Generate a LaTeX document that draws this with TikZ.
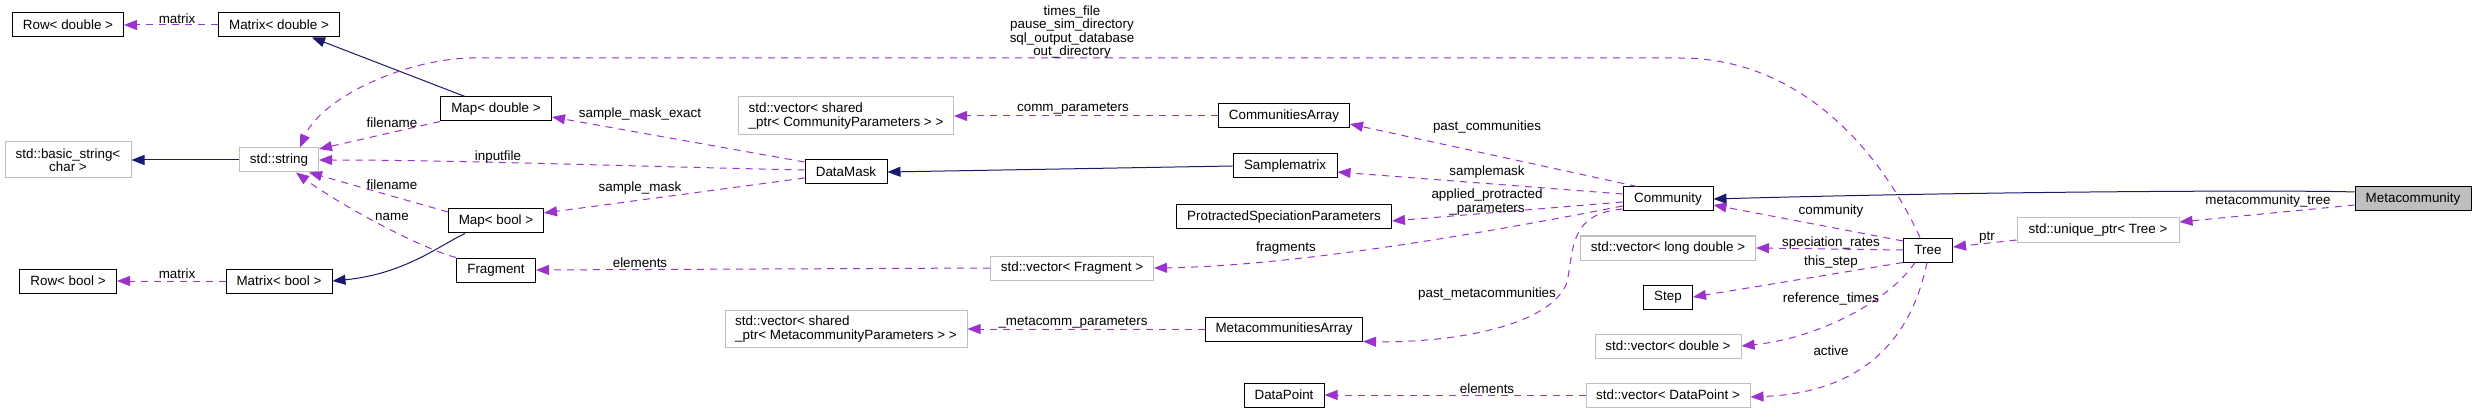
\documentclass[tikz,border=0pt]{standalone}
\usepackage{fontspec}
\setmainfont{Liberation Sans}
\usetikzlibrary{arrows.meta}
\definecolor{purp}{HTML}{9A32CD}
\definecolor{navy}{HTML}{191970}
\definecolor{lgray}{HTML}{BFBFBF}
\newcommand\dfont{\fontsize{13.4pt}{13.5pt}\selectfont}
\begin{document}
\begin{tikzpicture}[x=1pt,y=-1pt,
  cls/.style={draw=black, line width=1pt, fill=white, minimum height=24pt, inner xsep=2pt, inner ysep=1pt, font=\dfont, anchor=center},
  ext/.style={cls, draw=lgray},
  mem/.style={draw=purp, line width=1pt, dash pattern=on 7pt off 6pt, -{Triangle[length=13pt,width=10pt]}},
  inh/.style={draw=navy, line width=1pt, -{Triangle[length=13pt,width=10pt]}},
  lbl/.style={font=\dfont, inner sep=0pt, text=black, align=center}]
\useasboundingbox (0,0) rectangle (2476,414);
\fill[white] (0,0) rectangle (2476,414);

% nodes
\node[cls, minimum width=111pt] (rowd) at (68,25) {Row< double >};
\node[cls, minimum width=121pt] (matd) at (279,25) {Matrix< double >};
\node[ext, minimum width=126pt, minimum height=36pt, align=center] (bstr) at (68,160) {std::basic\_string<\\char >};
\node[ext, minimum width=79pt] (str) at (279,160) {std::string};
\node[cls, minimum width=97pt] (rowb) at (68,281) {Row< bool >};
\node[cls, minimum width=106pt] (matb) at (279,281) {Matrix< bool >};
\node[cls, minimum width=111pt] (mapd) at (496,109) {Map< double >};
\node[cls, minimum width=95pt] (mapb) at (496,221) {Map< bool >};
\node[cls, minimum width=79pt] (frag) at (496,270) {Fragment};
\node[ext, minimum width=215pt, minimum height=38pt, align=left] (vcp) at (846,116) {std::vector< shared\\\_ptr< CommunityParameters > >};
\node[cls, minimum width=82pt] (dmask) at (846,172) {DataMask};
\node[ext, minimum width=242pt, minimum height=37pt, align=left] (vmp) at (846,329) {std::vector< shared\\\_ptr< MetacommunityParameters > >};
\node[ext, minimum width=163pt] (vfrag) at (1072,268) {std::vector< Fragment >};
\node[cls, minimum width=131pt] (carr) at (1284,116) {CommunitiesArray};
\node[cls, minimum width=104pt] (smat) at (1285,166) {Samplematrix};
\node[cls, minimum width=215pt] (psp) at (1284,217) {ProtractedSpeciationParameters};
\node[cls, minimum width=157pt] (marr) at (1284,329) {MetacommunitiesArray};
\node[cls, minimum width=80pt] (dpt) at (1284,395) {DataPoint};
\node[cls, minimum width=90pt] (comm) at (1668,199) {Community};
\node[ext, minimum width=175pt] (vld) at (1668,248) {std::vector< long double >};
\node[cls, minimum width=49pt] (stepn) at (1668,297) {Step};
\node[ext, minimum width=146pt] (vd) at (1668,346) {std::vector< double >};
\node[ext, minimum width=164pt] (vdp) at (1668,395) {std::vector< DataPoint >};
\node[cls, minimum width=49pt] (tree) at (1928,250) {Tree};
\node[ext, minimum width=162pt] (uptr) at (2098,230) {std::unique\_ptr< Tree >};
\node[cls, minimum width=116pt, fill=lgray] (meta) at (2413,199) {Metacommunity};

% inheritance edges
\draw[inh] (str.west) -- (bstr.east);
\draw[inh] ([xshift=-31pt]mapd.north) -- ([xshift=33pt]matd.south);
\draw[inh] ([xshift=-31pt]mapb.south) .. controls (440,245) and (405,274) .. (matb.east);
\draw[inh] (smat.west) -- (dmask.east);
\draw[inh] ([yshift=7pt]meta.west) .. controls (2300,190) and (2000,191) .. (comm.east);

% member edges
\draw[mem] (matd.west) -- (rowd.east);
\node[lbl] (l1) at (177,19) {matrix};
\draw[mem] (matb.west) -- (rowb.east);
\node[lbl] (l2) at (177,274) {matrix};

\draw[mem] (mapd.south west) -- ([yshift=11pt]str.east);
\node[lbl] (l3) at (392,123) {filename};
\draw[mem] ([yshift=2pt]dmask.west) .. controls (620,166) and (450,160) .. (str.east);
\node[lbl] (l4) at (498,157) {inputfile};
\draw[mem] ([yshift=9pt]mapb.west) -- ([xshift=30pt]str.south);
\node[lbl] (l5) at (392,185) {filename};
\draw[mem] (frag.north west) .. controls (420,248) and (340,205) .. ([xshift=17pt]str.south);
\node[lbl] (l6) at (392,217) {name};

\draw[mem] ([xshift=-8pt]tree.north) .. controls (1880,150) and (1800,58) .. (1680,58) -- (470,58) .. controls (400,60) and (320,100) .. ([xshift=21pt]str.north);
\node[lbl] (l7) at (1072,32) {times\_file\\pause\_sim\_directory\\sql\_output\_database\\out\_directory};

\draw[mem] ([yshift=10pt]dmask.west) -- ([yshift=-8pt]mapd.east);
\node[lbl] (l8) at (640,114) {sample\_mask\_exact};
\draw[mem] ([yshift=-6pt]dmask.west) -- ([yshift=8pt]mapb.east);
\node[lbl] (l9) at (640,188) {sample\_mask};

\draw[mem] (carr.west) -- (vcp.east);
\node[lbl] (l10) at (1073,109) {comm\_parameters};
\draw[mem] (marr.west) -- (vmp.east);
\node[lbl] (l11) at (1073,323) {\_metacomm\_parameters};
\draw[mem] (vfrag.west) -- (frag.east);
\node[lbl] (l12) at (640,263) {elements};
\draw[mem] (vdp.west) -- (dpt.east);
\node[lbl] (l13) at (1487,389) {elements};

\draw[mem] ([xshift=-31pt]comm.north) -- ([yshift=-8pt]carr.east);
\node[lbl] (l14) at (1487,127) {past\_communities};
\draw[mem] ([yshift=5pt]comm.west) -- ([yshift=-6pt]smat.east);
\node[lbl] (l15) at (1487,172) {samplemask};
\draw[mem] ([yshift=-3pt]comm.west) -- ([yshift=-4pt]psp.east);
\node[lbl] (l16) at (1487,202) {applied\_protracted\\\_parameters};
\draw[mem] ([yshift=-7pt]comm.west) .. controls (1500,230) and (1300,266) .. (vfrag.east);
\node[lbl] (l17) at (1286,248) {fragments};
\draw[mem] ([yshift=-10pt]comm.west) .. controls (1565,214) and (1575,255) .. (1566,285) .. controls (1545,330) and (1440,343) .. (marr.south east);
\node[lbl] (l18) at (1487,294) {past\_metacommunities};

\draw[mem] ([yshift=9pt]tree.west) -- ([yshift=-6pt]comm.east);
\node[lbl] (l19) at (1831,211) {community};
\draw[mem] (tree.west) -- (vld.east);
\node[lbl] (l20) at (1831,243) {speciation\_rates};
\draw[mem] (tree.south west) -- (stepn.east);
\node[lbl] (l21) at (1831,262) {this\_step};
\draw[mem] ([xshift=-13pt]tree.south) .. controls (1890,300) and (1820,338) .. (vd.east);
\node[lbl] (l22) at (1831,299) {reference\_times};
\draw[mem] ([xshift=-1pt]tree.south) .. controls (1915,320) and (1880,392) .. ([yshift=-2pt]vdp.east);
\node[lbl] (l23) at (1831,351) {active};

\draw[mem] ([yshift=-10pt]uptr.west) -- ([yshift=3pt]tree.east);
\node[lbl] (l24) at (1987,238) {ptr};
\draw[mem] ([yshift=-6pt]meta.west) -- ([yshift=8pt]uptr.east);
\node[lbl] (l25) at (2268,201) {metacommunity\_tree};
\end{tikzpicture}
\end{document}
